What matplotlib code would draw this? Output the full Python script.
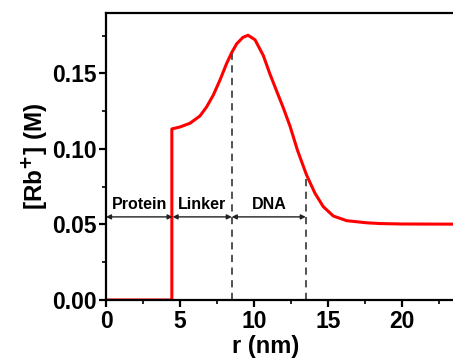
import matplotlib.pyplot as plt
import numpy as np

plt.rcParams['font.family'] = 'Liberation Sans'
plt.rcParams['font.weight'] = 'bold'
plt.rcParams['mathtext.default'] = 'bf'

# curve
r = [0.0, 4.45, 4.45, 5.0, 5.68, 6.35, 6.8, 7.25, 7.7, 8.15, 8.5, 8.83, 9.25, 9.6,
     10.07, 10.63, 11.08, 11.53, 11.98, 12.43, 12.95, 13.55, 14.12, 14.68, 15.36,
     16.26, 17.6, 18.5, 20.0, 23.5]
conc = [0.0, 0.0, 0.1132, 0.1145, 0.117, 0.1218, 0.1278, 0.1356, 0.1455, 0.1565, 0.1638,
        0.1695, 0.1738, 0.1752, 0.1722, 0.1618, 0.1495, 0.1383, 0.1272, 0.1152, 0.0988,
        0.0828, 0.0707, 0.0618, 0.0556, 0.0525, 0.0511, 0.0506, 0.0503, 0.0502]

regions = ['Protein', 'Linker', 'DNA']
bounds = [0.0, 4.5, 8.5, 13.5]
dash_x = [8.5, 13.5]
dash_top = [0.163, 0.083]

fig = plt.figure(figsize=(4.53, 3.58), dpi=100)
ax = fig.add_axes([0.234, 0.162, 0.766, 0.802])

ax.plot(r, conc, color='red', lw=2.2, solid_joinstyle='round')

for xd, yt in zip(dash_x, dash_top):
    ax.plot([xd, xd], [0, yt], ls=(0, (4, 3)), color='#444444', lw=1.3)

y_arrow = 0.055
for name, a, b in zip(regions, bounds[:-1], bounds[1:]):
    ax.annotate('', xy=(a, y_arrow), xytext=(b, y_arrow),
                arrowprops=dict(arrowstyle='<|-|>', color='#222222', lw=1.0,
                                mutation_scale=7, shrinkA=0, shrinkB=0))
    ax.text((a + b) / 2, y_arrow + 0.0035, name, ha='center', va='bottom',
            fontsize=11.5, fontweight='bold')

ax.set_xlim(0, 23.45)
ax.set_ylim(0, 0.19)
ax.set_xticks([0, 5, 10, 15, 20])
ax.set_xticks(np.arange(0, 23.5, 2.5), minor=True)
ax.set_yticks([0, 0.05, 0.10, 0.15])
ax.set_yticklabels(['0.00', '0.05', '0.10', '0.15'])
ax.set_yticks(np.arange(0, 0.19, 0.025), minor=True)
ax.tick_params(which='major', direction='out', length=5, width=1.6, labelsize=16.5, pad=2)
ax.tick_params(which='minor', direction='out', length=3, width=1.2)
ax.spines['right'].set_visible(False)
for s in ['left', 'bottom', 'top']:
    ax.spines[s].set_linewidth(1.6)

ax.set_xlabel('r (nm)', fontsize=17, fontweight='bold')
ax.xaxis.set_label_coords(0.461, -0.122)
ax.set_ylabel('[Rb$^{+}$] (M)', fontsize=17.5, fontweight='bold', labelpad=2)

fig.savefig('out.png')
plt.close(fig)
